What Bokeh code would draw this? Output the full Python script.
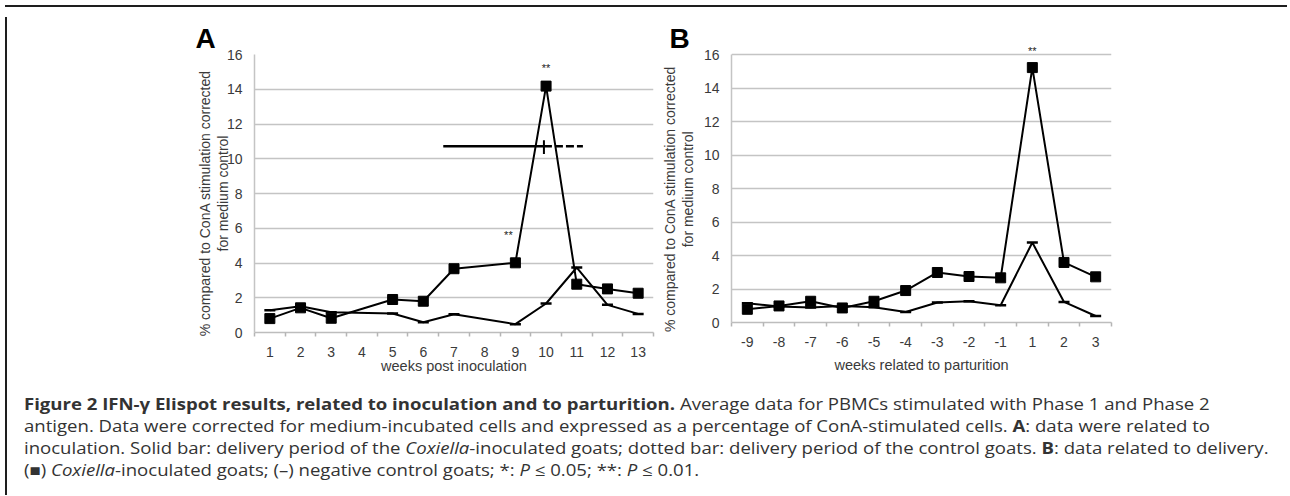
from bokeh.plotting import figure
from bokeh.models import Range1d, FixedTicker, Label, Div
from bokeh.layouts import row, column
from bokeh.embed import file_html
from bokeh.resources import INLINE

# ---------------- data ----------------
weeks_a = [1, 2, 3, 5, 6, 7, 9, 10, 11, 12, 13]
coxiella_a = [0.80, 1.42, 0.82, 1.90, 1.80, 3.67, 4.01, 14.18, 2.78, 2.51, 2.26]
control_a = [1.28, 1.51, 1.17, 1.09, 0.59, 1.05, 0.48, 1.67, 3.74, 1.59, 1.07]
tick_labels_a = ["1", "2", "3", "4", "5", "6", "7", "8", "9", "10", "11", "12", "13"]
signif_a = [(9, "**"), (10, "**")]
delivery_y = 10.72
delivery_inoculated = [6.65, 9.93]
delivery_control = [9.93, 11.2]

weeks_b = ["-9", "-8", "-7", "-6", "-5", "-4", "-3", "-2", "-1", "1", "2", "3"]
coxiella_b = [0.79, 0.99, 1.27, 0.87, 1.27, 1.91, 2.99, 2.75, 2.67, 15.24, 3.59, 2.73]
control_b = [1.15, 0.96, 0.90, 0.99, 0.91, 0.63, 1.20, 1.27, 1.03, 4.78, 1.23, 0.39]
signif_b = [("1", "**")]

y_ticks = [0, 2, 4, 6, 8, 10, 12, 14, 16]
y_label_lines = ["% compared to ConA stimulation corrected", "for medium control"]

FONT = "Liberation Sans"
GRID = "#c4c4c4"
TXT = "#3a3a3a"
NB = "\u00a0"


def panel(x_lo, x_hi, y_hi, positions, labels, frame_w, frame_h, borders, xlabel,
          xstand, xlabstand, ylabstand, pads, letter, letter_off, letter_stand):
    p = figure(frame_width=frame_w, frame_height=frame_h,
               x_range=Range1d(x_lo, x_hi), y_range=Range1d(0, y_hi),
               output_backend="svg", toolbar_location=None,
               min_border_left=borders[0], min_border_right=borders[1],
               min_border_top=borders[2], min_border_bottom=borders[3])
    p.outline_line_color = None
    p.background_fill_color = "white"
    p.border_fill_color = "white"
    p.xgrid.visible = False
    p.ygrid.ticker = FixedTicker(ticks=y_ticks)
    p.ygrid.grid_line_color = GRID
    p.ygrid.grid_line_width = 1.5

    p.title.text = letter
    p.title.align = "left"
    p.title.offset = letter_off
    p.title.standoff = letter_stand
    p.title.text_font = FONT
    p.title.text_font_size = "28px"
    p.title.text_font_style = "bold"
    p.title.text_color = "black"

    bounds = [x_lo + i for i in range(len(positions) + 1)]
    p.xaxis.ticker = FixedTicker(ticks=positions, minor_ticks=bounds)
    p.xaxis.major_label_overrides = {pos: lab for pos, lab in zip(positions, labels)}
    p.xaxis.major_tick_line_color = None
    p.xaxis.major_tick_out = 0
    p.xaxis.major_tick_in = 0
    p.xaxis.minor_tick_line_color = "#b5b5b5"
    p.xaxis.minor_tick_line_width = 1.5
    p.xaxis.minor_tick_out = 4
    p.xaxis.minor_tick_in = 0
    p.xaxis.axis_line_color = "#bdbdbd"
    p.xaxis.axis_line_width = 1.5
    p.xaxis.major_label_text_font = FONT
    p.xaxis.major_label_text_font_size = "14px"
    p.xaxis.major_label_text_color = TXT
    p.xaxis.major_label_standoff = xstand
    p.xaxis.axis_label = xlabel
    p.xaxis.axis_label_text_font = FONT
    p.xaxis.axis_label_text_font_size = "14.5px"
    p.xaxis.axis_label_text_font_style = "normal"
    p.xaxis.axis_label_text_color = TXT
    p.xaxis.axis_label_standoff = xlabstand

    p.yaxis.ticker = FixedTicker(ticks=y_ticks)
    p.yaxis.bounds = (0, 16)
    p.yaxis.major_tick_line_color = None
    p.yaxis.major_tick_out = 0
    p.yaxis.major_tick_in = 0
    p.yaxis.minor_tick_line_color = None
    p.yaxis.axis_line_color = "#c4c4c4"
    p.yaxis.axis_line_width = 1.5
    p.yaxis.major_label_text_font = FONT
    p.yaxis.major_label_text_font_size = "14px"
    p.yaxis.major_label_text_color = TXT
    p.yaxis.major_label_standoff = 12
    p.yaxis.axis_label = "\n".join(t + NB * n for t, n in zip(y_label_lines, pads))
    p.yaxis.axis_label_text_font = FONT
    p.yaxis.axis_label_text_font_size = "14px"
    p.yaxis.axis_label_text_font_style = "normal"
    p.yaxis.axis_label_text_color = TXT
    p.yaxis.axis_label_text_line_height = 1.1
    p.yaxis.axis_label_standoff = ylabstand
    return p


def draw_series(p, xs, cox, ctl):
    p.line(xs, ctl, line_color="black", line_width=2)
    p.scatter(xs, ctl, marker="dash", size=11, line_color="black", line_width=2.5)
    p.line(xs, cox, line_color="black", line_width=2)
    p.scatter(xs, cox, marker="square", size=10, fill_color="black", line_color="black")


# ---------------- panel A ----------------
pos_a = list(range(1, len(tick_labels_a) + 1))
pa = panel(0.5, len(tick_labels_a) + 0.5, 16, pos_a, tick_labels_a, 399, 278,
           (242, 6, 42, 55), "weeks post inoculation", 10, -2, -7, (5, 0), "A", -59, 2)
draw_series(pa, weeks_a, coxiella_a, control_a)
pa.line(delivery_inoculated, [delivery_y] * 2, line_color="black", line_width=2.5)
pa.line(delivery_control, [delivery_y] * 2, line_color="black", line_width=2.5, line_dash="8 3")
pa.segment(x0=[delivery_control[0]], y0=[delivery_y - 0.45], x1=[delivery_control[0]],
           y1=[delivery_y + 0.35], line_color="black", line_width=2)
for wk, txt in signif_a:
    yv = coxiella_a[weeks_a.index(wk)]
    dx, dy = ((-7, 28) if wk == 9 else (0, 18))
    pa.add_layout(Label(x=wk, y=yv, x_offset=dx, y_offset=dy, text=txt, text_align="center",
                        text_baseline="middle", text_font=FONT, text_font_size="11px",
                        text_color="#222"))

# ---------------- panel B ----------------
pos_b = list(range(len(weeks_b)))
xb = [weeks_b.index(w) for w in weeks_b]
pb = panel(-0.5, len(weeks_b) - 0.5, 16.62, pos_b, weeks_b, 380, 278,
           (66, 176, 32, 65), "weeks related to parturition", 10, 7, 5, (8, 3), "B", -62, -18)
draw_series(pb, xb, coxiella_b, control_b)
for wk, txt in signif_b:
    i = weeks_b.index(wk)
    pb.add_layout(Label(x=i, y=coxiella_b[i], y_offset=17, text=txt, text_align="center",
                        text_baseline="middle", text_font=FONT, text_font_size="11px",
                        text_color="#222"))

# ---------------- caption ----------------
caption_html = (
    '<div style="transform:scaleX(1.16);transform-origin:0 0;white-space:nowrap;">'
    '<b>Figure 2 IFN-γ Elispot results, related to inoculation and to parturition.</b> '
    'Average data for PBMCs stimulated with Phase 1 and Phase 2<br>'
    'antigen. Data were corrected for medium-incubated cells and expressed as a percentage '
    'of ConA-stimulated cells. <b>A</b>: data were related to<br>'
    'inoculation. Solid bar: delivery period of the <i>Coxiella</i>-inoculated goats; dotted bar: '
    'delivery period of the control goats. <b>B</b>: data related to delivery.<br>'
    '(&#9632;) <i>Coxiella</i>-inoculated goats; (&ndash;) negative control goats; '
    '*: <i>P</i> &le; 0.05; **: <i>P</i> &le; 0.01.'
    '</div>'
)
cap = Div(text=caption_html, width=1080, height=99,
          styles={"font-family": "Open Sans", "font-size": "16px", "line-height": "22px",
                  "color": "#333333", "padding-left": "7px", "padding-top": "1px"})

top_bar = Div(text="", width=1282, height=2, styles={"background-color": "#1e1e1e"})
left_bar = Div(text="", width=2, height=478, styles={"background-color": "#1e1e1e"})

layout = column(top_bar, row(left_bar, column(row(column(pa), column(pb)), cap)))

open("out.html", "w").write(file_html(layout, INLINE))
